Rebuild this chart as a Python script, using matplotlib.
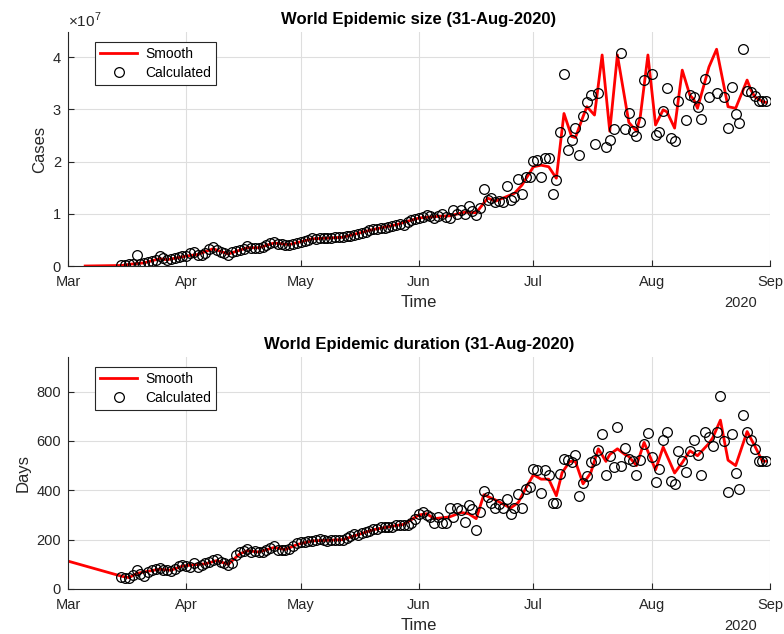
import numpy as np
import pandas as pd
import matplotlib
matplotlib.use('Agg')
import matplotlib.pyplot as plt
import matplotlib.dates as mdates

plt.rcParams['font.family'] = ['Liberation Sans', 'DejaVu Sans']
plt.rcParams['mathtext.fontset'] = 'custom'
plt.rcParams['mathtext.rm'] = 'Liberation Sans'

# daily calculated values, 15-Mar-2020 .. 31-Aug-2020
calc_start = '2020-03-15'
calc_end = '2020-08-31'

# epidemic size, in units of 1e7 cases (nan = off the chart)
cases_calc = [
    0.01, 0.02, 0.03, 0.03, 0.22, 0.04, 0.05, 0.07, 0.09, 0.12,
    0.19, 0.15, 0.12, 0.13, 0.15, 0.17, 0.19, 0.20, 0.24, 0.27,
    0.22, 0.21, 0.24, 0.33, 0.36, 0.30, 0.26, 0.24, 0.22, 0.26,
    0.28, 0.30, 0.33, 0.38, 0.35, 0.34, 0.35, 0.37, 0.40, 0.44,
    0.46, 0.43, 0.42, 0.41, 0.40, 0.42, 0.44, 0.46, 0.47, 0.50,
    0.53, 0.52, 0.53, 0.54, 0.53, 0.54, 0.55, 0.55, 0.55, 0.57,
    0.58, 0.60, 0.62, 0.64, 0.66, 0.68, 0.70, 0.71, 0.72, 0.73,
    0.75, 0.77, 0.79,
    0.80, 0.78, 0.85, 0.88, 0.90, 0.92, 0.94, 0.97, 0.95, 0.91,
    0.96, 1.00, 0.93, 0.91, 1.07, 1.00, 1.07, 0.99, 1.15, 1.05,
    0.97, 1.11, 1.47, 1.26, 1.30, 1.22, 1.24, 1.23, 1.54, 1.27,
    1.32, 1.66, 1.38, 1.71, 1.70, 2.01, 2.03, 1.70, 2.06, 2.06,
    1.38, 1.65, 2.57, 3.67, 2.22, 2.41, 2.65, 2.12, 2.87, 3.14,
    3.27, 2.33, 3.32, np.nan, 2.28, 2.41, 2.63, np.nan, 4.07, 2.62,
    2.92, 2.58, 2.48, 2.76, 3.56, np.nan, 3.67, 2.50, 2.56, 2.97,
    3.41, 2.46, 2.39, 3.16, np.nan, 2.79, 3.27, 3.24, 3.04, 2.81,
    3.58, 3.24, np.nan, 3.32, np.nan, 3.24, 2.65, 3.43, 2.91, 2.74,
    4.15, 3.36, 3.34, 3.25, 3.15, 3.15, 3.15,
]

# epidemic duration, days
duration_calc = [
    50, 45, 43, 55, 77, 60, 53, 70, 77, 80,
    84, 78, 77, 74, 80, 93, 97, 95, 88, 104,
    91, 97, 105, 111, 118, 121, 110, 104, 97, 104,
    138, 148, 155, 161, 151, 152, 151, 148, 160, 165,
    175, 160, 158, 160, 162, 175, 186, 189, 192, 196,
    196, 199, 202, 198, 196, 199, 199, 199, 200, 205,
    215, 223, 219, 226, 232, 236, 242, 245, 253, 253,
    250, 253, 258,
    260, 258, 260, 269, 285, 305, 310, 300, 290, 267,
    292, 269, 269, 328, 292, 328, 322, 272, 341, 323,
    240, 310, 398, 372, 350, 328, 345, 330, 365, 305,
    330, 386, 330, 406, 413, 486, 483, 389, 483, 460,
    348, 348, 466, 528, 524, 513, 544, 378, 429, 456,
    513, 524, 562, 629, 460, 540, 494, 655, 500, 571,
    528, 518, 460, 522, 589, 632, 535, 433, 487, 605,
    636, 439, 425, 560, 518, 474, 560, 602, 541, 460,
    636, 615, 578, 636, 781, 598, 393, 629, 470, 405,
    704, 635, 602, 569, 518, 518, 518,
]

# smooth curves: vertices as days after 1-Mar-2020
smooth_cases_day = [4.5, 14, 17, 20, 24, 26, 31, 34, 38, 42,
                    47, 50, 54, 58, 64, 72, 80, 86, 92, 97,
                    100, 104, 107, 110, 112, 115, 117, 119, 122, 124,
                    126, 128, 130, 132, 133, 135, 136, 138, 140, 142,
                    144, 147, 149, 150, 152, 154, 156, 157, 159, 161,
                    163, 164, 165, 168, 170, 173, 175, 178, 179, 180,
                    182, 183]
smooth_cases = [0.00, 0.01, 0.04, 0.06, 0.14, 0.12, 0.19, 0.22, 0.33, 0.23,
                0.35, 0.35, 0.44, 0.41, 0.52, 0.55, 0.70, 0.79, 0.92, 0.95,
                0.96, 1.03, 1.02, 1.30, 1.24, 1.33, 1.39, 1.55, 1.90, 1.93,
                1.90, 1.68, 2.92, 2.48, 2.46, 2.86, 3.05, 2.89, 4.04, 2.58,
                4.04, 2.75, 2.58, 2.86, 4.04, 2.70, 2.99, 2.95, 2.64, 3.75,
                3.27, 3.19, 3.02, 3.81, 4.15, 3.05, 3.02, 3.56, 3.37, 3.24,
                3.15, 3.13]

smooth_dur_day = [0, 14, 16, 18, 21, 24, 27, 30, 33, 36,
                  39, 42, 45, 47, 50, 54, 57, 60, 64, 69,
                  72, 76, 80, 84, 88, 92, 94, 96, 100, 103,
                  105, 107, 109, 112, 116, 118, 120, 122, 124, 126,
                  128, 129.5, 131.5, 133, 135, 137, 139, 141, 142, 144,
                  146, 147, 149, 151, 154, 156, 159, 161, 163, 165,
                  168, 169, 171, 173, 175, 178, 180, 182, 183]
smooth_dur = [113, 52, 46, 63, 72, 80, 76, 93, 98, 102,
              115, 100, 142, 155, 150, 168, 160, 180, 195, 198,
              200, 220, 240, 252, 262, 300, 305, 285, 292, 310,
              305, 285, 382, 361, 328, 350, 409, 463, 445, 445,
              378, 471, 517, 517, 426, 470, 568, 517, 545, 568,
              545, 537, 500, 594, 483, 575, 470, 512, 560, 540,
              590, 613, 684, 522, 500, 638, 580, 518, 518]

titles = ['World Epidemic size (31-Aug-2020)', 'World Epidemic duration (31-Aug-2020)']
ylabels = ['Cases', 'Days']

day0 = pd.Timestamp('2020-03-01')
calc_dates = pd.date_range(calc_start, calc_end, freq='D')
sm_cases_dates = day0 + pd.to_timedelta(smooth_cases_day, unit='D')
sm_dur_dates = day0 + pd.to_timedelta(smooth_dur_day, unit='D')

dark = '#262626'

def style(ax):
    for s in ['top', 'right']:
        ax.spines[s].set_visible(False)
    for s in ['left', 'bottom']:
        ax.spines[s].set_color(dark)
        ax.spines[s].set_linewidth(0.8)
    ax.grid(True, color='#dedede', lw=0.8)
    ax.set_axisbelow(True)
    ax.tick_params(direction='in', length=4, width=0.8, colors=dark,
                   labelsize=10.5)
    ax.tick_params(axis='x', pad=6.5)
    ax.tick_params(axis='y', pad=5)
    ax.xaxis.set_major_locator(mdates.MonthLocator())
    ax.xaxis.set_major_formatter(mdates.DateFormatter('%b'))
    ax.set_xlim(pd.Timestamp('2020-03-01'), pd.Timestamp('2020-09-01'))

fig = plt.figure(figsize=(7.84, 6.34), dpi=100)
ax1 = fig.add_axes([68/784, 1-266/634, 702/784, 234/634])
ax2 = fig.add_axes([68/784, 1-589/634, 702/784, 232/634])

ax1.plot(sm_cases_dates, np.array(smooth_cases)*1e7, color='red', lw=2, label='Smooth')
ax1.plot(calc_dates, np.array(cases_calc)*1e7, 'o', mfc='none', mec='k', ms=7,
         mew=0.9, label='Calculated')
ax2.plot(sm_dur_dates, smooth_dur, color='red', lw=2, label='Smooth')
ax2.plot(calc_dates, duration_calc, 'o', mfc='none', mec='k', ms=7,
         mew=0.9, label='Calculated')

ax1.set_ylim(0, 4.48e7)
ax1.set_yticks([0, 1e7, 2e7, 3e7, 4e7])
ax1.set_yticklabels(['0', '1', '2', '3', '4'])
ax1.text(0, 1.01, r'$\times10^{7}$', transform=ax1.transAxes, color=dark,
         fontsize=11, ha='left', va='bottom')

ax2.set_ylim(0, 940)
ax2.set_yticks([0, 200, 400, 600, 800])

for ax, t, yl in zip([ax1, ax2], titles, ylabels):
    style(ax)
    ax.set_title(t, fontsize=12, fontweight='bold', pad=6)
    ax.set_ylabel(yl, fontsize=12, color=dark)
    ax.set_xlabel('Time', fontsize=12, color=dark, labelpad=4)
    ax.text(0.958, -0.16, '2020', transform=ax.transAxes, fontsize=10.5,
            color=dark, ha='center', va='center')
    leg = ax.legend(loc='upper left', bbox_to_anchor=(0.0385, 0.957),
                    fontsize=10, fancybox=False, edgecolor=dark,
                    framealpha=1, handlelength=2.7, handletextpad=0.6,
                    borderpad=0.35, labelspacing=0.35, borderaxespad=0)
    leg.get_frame().set_linewidth(0.8)

fig.savefig('out.png', dpi=100)
